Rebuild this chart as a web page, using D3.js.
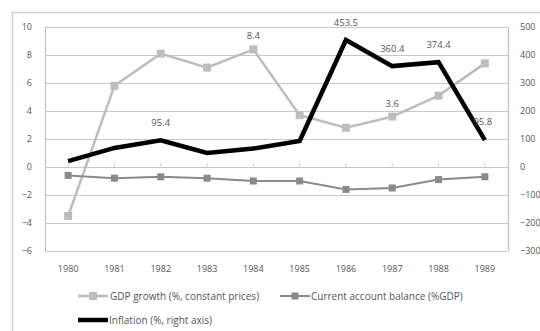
<!DOCTYPE html>
<html><head><meta charset="utf-8">
<script src="https://cdn.jsdelivr.net/npm/d3@7"></script>
<style>body{margin:0;background:#fff}svg{display:block}</style>
</head><body>
<script>
const years = ["1980","1981","1982","1983","1984","1985","1986","1987","1988","1989"];
const gdpGrowth = [-3.5, 5.8, 8.1, 7.1, 8.4, 3.7, 2.8, 3.6, 5.1, 7.4];
const currentAccount = [-0.6, -0.8, -0.7, -0.8, -1.0, -1.0, -1.6, -1.5, -0.9, -0.7];
const inflation = [21, 68, 95.4, 50, 66, 93, 453.5, 360.4, 374.4, 95.8];
const leftTicks = [10, 8, 6, 4, 2, 0, -2, -4, -6];
const rightTicks = [500, 400, 300, 200, 100, 0, -100, -200, -300];
const gdpLabels = {"1984": "8.4", "1987": "3.6"};
const inflLabels = {"1982": "95.4", "1986": "453.5", "1987": "360.4", "1988": "374.4", "1989": "95.8"};

const W = 540, H = 331;
const m = {left: 45, right: 508, top: 27, bottom: 251};
const svg = d3.select("body").append("svg").attr("width", W).attr("height", H);
const font = "'Open Sans', 'Liberation Sans', sans-serif";

// outer border
svg.append("rect").attr("x", 12.5).attr("y", 12.5).attr("width", 540).attr("height", 330)
  .attr("fill", "none").attr("stroke", "#d0d0d0").attr("stroke-width", 1.5);

const x = d3.scaleBand().domain(years).range([m.left, m.right]);
const xc = d => x(d) + x.bandwidth() / 2;
const yL = d3.scaleLinear().domain([-6, 10]).range([m.bottom, m.top]);
const yR = d3.scaleLinear().domain([-300, 500]).range([m.bottom, m.top]);

// gridlines
svg.append("g").selectAll("line").data(leftTicks).join("line")
  .attr("x1", m.left).attr("x2", m.right)
  .attr("y1", d => Math.round(yL(d)) + 0.5).attr("y2", d => Math.round(yL(d)) + 0.5)
  .attr("stroke", "#c8c8c8").attr("stroke-width", 1.2);

// axes lines
svg.append("line").attr("x1", m.left + 0.5).attr("x2", m.left + 0.5).attr("y1", m.top).attr("y2", m.bottom)
  .attr("stroke", "#c0c0c0").attr("stroke-width", 1.2);
svg.append("line").attr("x1", m.right + 0.5).attr("x2", m.right + 0.5).attr("y1", m.top).attr("y2", m.bottom)
  .attr("stroke", "#c0c0c0").attr("stroke-width", 1.2);

// category tick marks at zero line
svg.append("g").selectAll("line").data(years).join("line")
  .attr("x1", d => xc(d)).attr("x2", d => xc(d))
  .attr("y1", yL(0) - 4).attr("y2", yL(0))
  .attr("stroke", "#d0d0d0").attr("stroke-width", 1);

// left axis
const gl = svg.append("g").attr("transform", `translate(${m.left - 10},0)`)
  .call(d3.axisLeft(yL).tickValues(leftTicks).tickSize(0).tickFormat(d3.format("d")));
gl.select(".domain").remove();
gl.selectAll("text").attr("font-family", font).attr("font-size", 9).attr("fill", "#555");

// right axis
const gr = svg.append("g").attr("transform", `translate(${m.right + 9},0)`)
  .call(d3.axisRight(yR).tickValues(rightTicks).tickSize(0).tickFormat(d3.format("d")));
gr.select(".domain").remove();
gr.selectAll("text").attr("font-family", font).attr("font-size", 9).attr("fill", "#555");

// x axis labels
const gx = svg.append("g").attr("transform", `translate(0,${m.bottom + 12})`)
  .call(d3.axisBottom(x).tickSize(0));
gx.select(".domain").remove();
gx.selectAll("text").attr("font-family", font).attr("font-size", 9).attr("fill", "#555");

// lines
const gdpColor = "#bdbdbd", caColor = "#8a8a8a";
const lineL = d3.line().x((d, i) => xc(years[i])).y(d => yL(d));
const lineR = d3.line().x((d, i) => xc(years[i])).y(d => yR(d));

svg.append("path").datum(gdpGrowth).attr("d", lineL).attr("fill", "none")
  .attr("stroke", gdpColor).attr("stroke-width", 2.5);
svg.append("g").selectAll("rect").data(gdpGrowth).join("rect")
  .attr("x", (d, i) => xc(years[i]) - 4).attr("y", d => yL(d) - 4)
  .attr("width", 8).attr("height", 8).attr("fill", gdpColor);

svg.append("path").datum(currentAccount).attr("d", lineL).attr("fill", "none")
  .attr("stroke", caColor).attr("stroke-width", 2);
svg.append("g").selectAll("rect").data(currentAccount).join("rect")
  .attr("x", (d, i) => xc(years[i]) - 3.5).attr("y", d => yL(d) - 3.5)
  .attr("width", 7).attr("height", 7).attr("fill", caColor);

svg.append("path").datum(inflation).attr("d", lineR).attr("fill", "none")
  .attr("stroke", "#000").attr("stroke-width", 4.5).attr("stroke-linejoin", "miter");

// data labels
svg.append("g").selectAll("text").data(years.filter(y => gdpLabels[y])).join("text")
  .attr("x", d => xc(d)).attr("y", d => yL(gdpGrowth[years.indexOf(d)]) - 10)
  .attr("text-anchor", "middle").attr("font-family", font).attr("font-size", 9.5).attr("fill", "#555")
  .text(d => gdpLabels[d]);
svg.append("g").selectAll("text").data(years.filter(y => inflLabels[y])).join("text")
  .attr("x", d => xc(d) + (d === "1989" ? -2 : 0))
  .attr("y", d => yR(inflation[years.indexOf(d)]) - (d === "1989" ? 15 : 14))
  .attr("text-anchor", "middle").attr("font-family", font).attr("font-size", 9.5).attr("fill", "#555")
  .text(d => inflLabels[d]);

// legend
const lg = svg.append("g").attr("font-family", font).attr("font-size", 10).attr("fill", "#555");
lg.append("line").attr("x1", 78).attr("x2", 108).attr("y1", 296).attr("y2", 296).attr("stroke", gdpColor).attr("stroke-width", 2.5);
lg.append("rect").attr("x", 89).attr("y", 292).attr("width", 8).attr("height", 8).attr("fill", gdpColor);
lg.append("text").attr("x", 110).attr("y", 299.5).text("GDP growth (%, constant prices)");
lg.append("line").attr("x1", 280).attr("x2", 310).attr("y1", 296).attr("y2", 296).attr("stroke", caColor).attr("stroke-width", 2);
lg.append("rect").attr("x", 291.5).attr("y", 292.5).attr("width", 7).attr("height", 7).attr("fill", caColor);
lg.append("text").attr("x", 311).attr("y", 299.5).text("Current account balance (%GDP)");
lg.append("line").attr("x1", 78).attr("x2", 108).attr("y1", 320).attr("y2", 320).attr("stroke", "#000").attr("stroke-width", 4.5);
lg.append("text").attr("x", 109).attr("y", 323.5).text("Inflation (%, right axis)");
</script>
</body></html>
